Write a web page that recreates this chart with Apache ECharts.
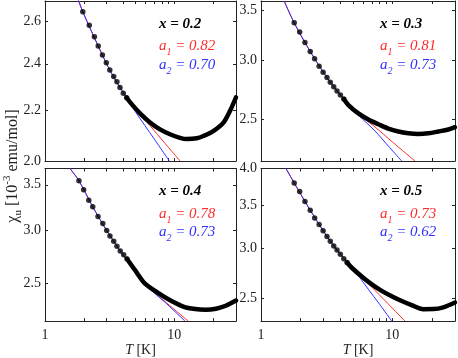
<!DOCTYPE html>
<html>
<head>
<meta charset="utf-8">
<script src="https://cdn.jsdelivr.net/npm/echarts@6/dist/echarts.min.js"></script>
<style>
html, body { margin: 0; padding: 0; background: #fff; }
#chart { width: 458px; height: 358px; }
</style>
</head>
<body>
<div id="chart"></div>
<script>
// ---- x = 0.2 ----
var dotT02 = [1.96, 2.20, 2.41, 2.58, 2.78, 2.98, 3.17, 3.40, 3.60, 3.80, 4.03, 4.28];
var dotChi02 = [2.646, 2.580, 2.525, 2.481, 2.440, 2.405, 2.372, 2.344, 2.321, 2.296, 2.271, 2.252];
var curT02 = [4.28, 4.68, 5.43, 6.49, 7.75, 9.26, 11.07, 12.47, 14.9, 16.8, 20.0, 23.9, 27.0, 30];
var curChi02 = [2.252, 2.225, 2.187, 2.150, 2.122, 2.103, 2.089, 2.084, 2.087, 2.096, 2.115, 2.148, 2.198, 2.254];
var redT02 = [1.80, 1.96, 2.58, 3.17, 3.80, 5.0, 7.0, 9.0, 11.07];
var redChi02 = [2.71, 2.646, 2.481, 2.372, 2.296, 2.209, 2.117, 2.052, 2.0];
var blueT02 = [1.80, 1.96, 2.58, 3.17, 3.80, 5.0, 7.0, 9.15];
var blueChi02 = [2.71, 2.646, 2.481, 2.372, 2.296, 2.194, 2.084, 2.0];

// ---- x = 0.3 ----
var dotT03 = [1.79, 1.97, 2.16, 2.37, 2.56, 2.77, 2.97, 3.18, 3.37, 3.58, 3.79, 4.02, 4.27];
var dotChi03 = [3.366, 3.273, 3.169, 3.082, 3.013, 2.946, 2.892, 2.844, 2.804, 2.765, 2.729, 2.696, 2.662];
var curT03 = [4.27, 4.63, 5.51, 6.56, 7.82, 9.32, 11.11, 13.24, 15.78, 18.80, 22.40, 26.70, 30];
var curChi03 = [2.662, 2.613, 2.547, 2.500, 2.464, 2.431, 2.409, 2.396, 2.391, 2.396, 2.409, 2.424, 2.441];
var redT03 = [1.50, 1.79, 2.37, 3.18, 4.02, 5.5, 7.38, 10.0, 14.89];
var redChi03 = [3.60, 3.366, 3.082, 2.844, 2.696, 2.545, 2.443, 2.333, 2.2];
var blueT03 = [1.50, 1.79, 2.37, 3.18, 4.02, 5.5, 7.38, 9.5, 11.79];
var blueChi03 = [3.60, 3.366, 3.082, 2.844, 2.696, 2.535, 2.413, 2.295, 2.2];

// ---- x = 0.4 ----
var dotT04 = [1.83, 1.99, 2.18, 2.34, 2.57, 2.80, 3.00, 3.18, 3.40, 3.60, 3.82, 4.06, 4.31];
var dotChi04 = [3.549, 3.443, 3.322, 3.247, 3.142, 3.068, 2.995, 2.941, 2.889, 2.840, 2.794, 2.757, 2.719];
var curT04 = [4.31, 4.97, 5.94, 7.75, 9.0, 11.74, 14.5, 17.5, 21, 25, 30];
var curChi04 = [2.719, 2.617, 2.500, 2.412, 2.370, 2.312, 2.292, 2.287, 2.295, 2.318, 2.360];
var redT04 = [1.56, 1.83, 2.34, 3.00, 3.82, 4.97, 5.93, 8.73, 12.82];
var redChi04 = [3.70, 3.549, 3.247, 2.995, 2.794, 2.612, 2.494, 2.340, 2.2];
var blueT04 = [1.56, 1.83, 2.34, 3.00, 3.82, 4.97, 5.93, 8.73, 12.09];
var blueChi04 = [3.70, 3.549, 3.247, 2.995, 2.794, 2.610, 2.492, 2.334, 2.2];

// ---- x = 0.5 ----
var dotT05 = [1.79, 1.97, 2.16, 2.37, 2.56, 2.77, 2.97, 3.18, 3.37, 3.58, 3.79, 4.02, 4.27, 4.52];
var dotChi05 = [3.796, 3.679, 3.548, 3.439, 3.344, 3.264, 3.193, 3.127, 3.073, 3.020, 2.976, 2.930, 2.884, 2.844];
var curT05 = [4.52, 4.91, 5.85, 6.97, 8.30, 9.89, 11.79, 14.05, 17.22, 20.53, 24.45, 30];
var curChi05 = [2.844, 2.791, 2.704, 2.628, 2.567, 2.517, 2.474, 2.437, 2.402, 2.403, 2.418, 2.460];
var redT05 = [1.55, 1.79, 2.37, 3.18, 4.02, 5.0, 7.38, 10.0, 12.49];
var redChi05 = [4.00, 3.796, 3.439, 3.127, 2.930, 2.790, 2.571, 2.411, 2.3];
var blueT05 = [1.55, 1.79, 2.37, 3.18, 4.02, 5.0, 6.56, 8.0, 9.89];
var blueChi05 = [4.00, 3.796, 3.439, 3.127, 2.930, 2.785, 2.582, 2.445, 2.3];

// panel labels and fit exponents
var xLabels = ['0.2', '0.3', '0.4', '0.5'];
var a1Labels = ['0.82', '0.81', '0.78', '0.73'];
var a2Labels = ['0.70', '0.73', '0.73', '0.62'];

// axis ranges and tick labels
var yMin = [2.0, 2.2, 2.2, 2.3];
var yMax = [2.7, 3.6, 3.7, 4.0];
var yTicks = [[2.0, 2.2, 2.4, 2.6], [2.5, 3.0, 3.5], [2.5, 3.0, 3.5], [2.5, 3.0, 3.5, 4.0]];
var xTicks = [1, 2, 3, 4, 5, 6, 7, 8, 9, 10, 20, 30];
var xTickLabels = [1, 10];

var panels = [
	{dT: dotT02, dC: dotChi02, cT: curT02, cC: curChi02, rT: redT02, rC: redChi02, bT: blueT02, bC: blueChi02},
	{dT: dotT03, dC: dotChi03, cT: curT03, cC: curChi03, rT: redT03, rC: redChi03, bT: blueT03, bC: blueChi03},
	{dT: dotT04, dC: dotChi04, cT: curT04, cC: curChi04, rT: redT04, rC: redChi04, bT: blueT04, bC: blueChi04},
	{dT: dotT05, dC: dotChi05, cT: curT05, cC: curChi05, rT: redT05, rC: redChi05, bT: blueT05, bC: blueChi05}
];

var gridPos = [
	{left: 45, top: 1, width: 191, height: 160},
	{left: 261, top: 1, width: 194, height: 160},
	{left: 45, top: 168.5, width: 191, height: 160},
	{left: 261, top: 168.5, width: 194, height: 160}
];

var FONT = '"Liberation Serif", "DejaVu Serif", serif';
var RED = '#ff2a2a';
var BLUE = '#3030ff';

function zip(a, b) {
	var out = [];
	for (var i = 0; i < a.length; i++) {
		out.push([a[i], b[i]]);
	}
	return out;
}

var grids = [], xAxes = [], yAxes = [], series = [], graphics = [];

for (var p = 0; p < 4; p++) {
	var g = gridPos[p];
	grids.push({left: g.left, top: g.top, width: g.width, height: g.height, containLabel: false});
	var bottomRow = p >= 2;

	// bottom x axis
	xAxes.push({
		type: 'log', gridIndex: p, position: 'bottom', min: 1, max: 30,
		axisLine: {show: true, lineStyle: {color: '#222', width: 1}},
		axisTick: {show: true, inside: true, length: 3, customValues: xTicks, lineStyle: {color: '#222'}},
		axisLabel: {
			show: bottomRow, customValues: xTickLabels, margin: 7,
			fontFamily: FONT, fontSize: 14, color: '#222',
			formatter: function (v) { return String(Math.round(v)); }
		},
		splitLine: {show: false},
		name: bottomRow ? '{i|T} [K]' : '', nameLocation: 'middle', nameGap: 20,
		nameTextStyle: {fontFamily: FONT, fontSize: 14, color: '#222',
			rich: {i: {fontFamily: FONT, fontSize: 14, fontStyle: 'italic', color: '#222'}}}
	});
	// top x axis (mirrored ticks)
	xAxes.push({
		type: 'log', gridIndex: p, position: 'top', min: 1, max: 30,
		axisLine: {show: true, lineStyle: {color: '#222', width: 1}},
		axisTick: {show: true, inside: true, length: 3, customValues: xTicks, lineStyle: {color: '#222'}},
		axisLabel: {show: false},
		splitLine: {show: false}
	});
	// left y axis
	yAxes.push({
		type: 'log', gridIndex: p, position: 'left', min: yMin[p], max: yMax[p],
		axisLine: {show: true, lineStyle: {color: '#222', width: 1}},
		axisTick: {show: true, inside: true, length: 3, customValues: yTicks[p], lineStyle: {color: '#222'}},
		axisLabel: {
			show: true, customValues: yTicks[p], margin: 4,
			fontFamily: FONT, fontSize: 14, color: '#222',
			formatter: function (v) { return v.toFixed(1); }
		},
		splitLine: {show: false}
	});
	// right y axis (mirrored ticks)
	yAxes.push({
		type: 'log', gridIndex: p, position: 'right', min: yMin[p], max: yMax[p],
		axisLine: {show: true, lineStyle: {color: '#222', width: 1}},
		axisTick: {show: true, inside: true, length: 3, customValues: yTicks[p], lineStyle: {color: '#222'}},
		axisLabel: {show: false},
		splitLine: {show: false}
	});

	var d = panels[p];
	series.push({
		type: 'line', xAxisIndex: p * 2, yAxisIndex: p * 2, data: zip(d.rT, d.rC),
		smooth: 0.3, symbol: 'none', lineStyle: {color: RED, width: 1}, z: 2, silent: true
	});
	series.push({
		type: 'line', xAxisIndex: p * 2, yAxisIndex: p * 2, data: zip(d.bT, d.bC),
		smooth: 0.3, symbol: 'none', lineStyle: {color: BLUE, width: 1}, z: 3, silent: true
	});
	series.push({
		type: 'line', xAxisIndex: p * 2, yAxisIndex: p * 2, data: zip(d.cT, d.cC),
		smooth: 0.3, symbol: 'none', lineStyle: {color: '#000', width: 4.5, cap: 'round'}, z: 4, silent: true
	});
	series.push({
		type: 'scatter', xAxisIndex: p * 2, yAxisIndex: p * 2, data: zip(d.dT, d.dC),
		symbol: 'circle', symbolSize: 5.5, itemStyle: {color: '#000'}, z: 5, silent: true
	});

	// annotations
	var tx = (p % 2 === 0) ? 159 : 380;
	var ty = g.top;
	graphics.push({
		type: 'text', x: tx, y: ty + 23,
		style: {text: 'x = ' + xLabels[p], font: 'bold italic 15px ' + FONT, fill: '#000', verticalAlign: 'middle'}
	});
	graphics.push({
		type: 'text', x: tx, y: ty + 45.5,
		style: {
			text: '{m|a}{s|1}{m| = ' + a1Labels[p] + '}', verticalAlign: 'middle',
			rich: {
				m: {font: 'italic 15px ' + FONT, fill: RED, lineHeight: 22},
				s: {font: 'italic 10px ' + FONT, fill: RED, lineHeight: 22, verticalAlign: 'bottom'}
			}
		}
	});
	graphics.push({
		type: 'text', x: tx, y: ty + 64,
		style: {
			text: '{m|a}{s|2}{m| = ' + a2Labels[p] + '}', verticalAlign: 'middle',
			rich: {
				m: {font: 'italic 15px ' + FONT, fill: BLUE, lineHeight: 22},
				s: {font: 'italic 10px ' + FONT, fill: BLUE, lineHeight: 22, verticalAlign: 'bottom'}
			}
		}
	});
}

// shared y axis title
graphics.push({
	type: 'text', x: 13, y: 166, rotation: Math.PI / 2,
	style: {
		text: '{n|χ}{u|u}{n| [10}{e|-3}{n| emu/mol]}', align: 'center', verticalAlign: 'middle',
		rich: {
			n: {font: '16px ' + FONT, fill: '#222', lineHeight: 22},
			u: {font: '11px ' + FONT, fill: '#222', lineHeight: 22, verticalAlign: 'bottom'},
			e: {font: '11px ' + FONT, fill: '#222', lineHeight: 22, verticalAlign: 'top'}
		}
	}
});

var option = {
	animation: false,
	backgroundColor: '#fff',
	grid: grids,
	xAxis: xAxes,
	yAxis: yAxes,
	series: series,
	graphic: graphics
};

echarts.init(document.getElementById('chart')).setOption(option);
</script>
</body>
</html>
